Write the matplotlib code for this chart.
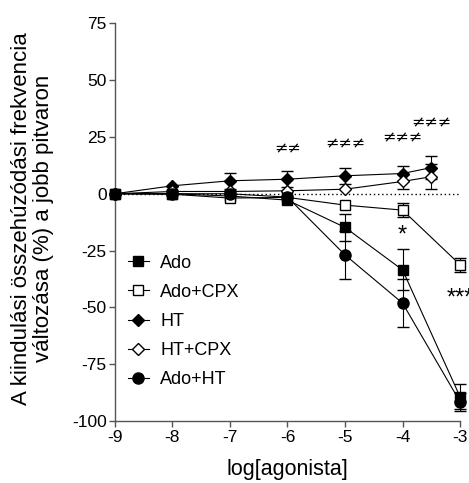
import numpy as np
import matplotlib
matplotlib.use('Agg')
import matplotlib.pyplot as plt

plt.rcParams['font.family'] = ['Liberation Sans', 'DejaVu Sans']
plt.rcParams['axes.unicode_minus'] = False

# log concentrations
x_main = [-9, -8, -7, -6, -5, -4, -3]
x_ht = [-9, -8, -7, -6, -5, -4, -3.5]

# mean values (%)
ado = [0, 0, -1, -2.8, -14.8, -33.5, -89.3]
ado_err = [0, 0, 0, 0, 6, 9, 5.5]
ado_cpx = [0, -0.2, -1.9, -1.6, -5, -7.2, -31.2]
ado_cpx_err = [0, 0, 0, 0, 0, 3, 3]
ht = [0, 3.5, 5.7, 6.4, 7.9, 8.9, 11.5]
ht_err = [0, 0, 3.6, 3.4, 3.6, 3.4, 5]
ht_cpx = [0, 1, 1, 1.3, 2, 5.4, 7.5]
ht_cpx_err = [0, 0, 0, 0, 0, 3.3, 5.5]
ado_ht = [0, 0, 0, -1.5, -26.9, -48.1, -91.5]
ado_ht_err = [0, 0, 0, 0, 10.5, 10.5, 4]

# significance marks
hash_x = [-6, -5, -4, -3.5]
hash_y = [19.6, 22, 24.7, 31.3]
hash_txt = ['≠≠', '≠≠≠', '≠≠≠', '≠≠≠']

fig = plt.figure(figsize=(4.69, 4.83), dpi=100)
ax = fig.add_axes([0.245, 0.128, 0.736, 0.824])

kw = dict(color='black', lw=0.8, capsize=4, elinewidth=0.8,
          capthick=0.8, clip_on=False, zorder=3)

def series(x, y, e, marker, fc, label, ms=7):
    err = np.array(e, dtype=float)
    eb = ax.errorbar(x, y, yerr=np.where(err > 0, err, np.nan), marker=marker,
                     mfc=fc, mec='black', mew=1.0, label=label, ms=ms, **kw)
    for art in eb.lines[1] + eb.lines[2]:
        art.set_clip_on(False)
    return eb

series(x_main, ado, ado_err, 's', 'black', 'Ado', 7)
series(x_main, ado_cpx, ado_cpx_err, 's', 'white', 'Ado+CPX', 7)
series(x_ht, ht, ht_err, 'D', 'black', 'HT', 6)
series(x_ht, ht_cpx, ht_cpx_err, 'D', 'white', 'HT+CPX', 6)
series(x_main, ado_ht, ado_ht_err, 'o', 'black', 'Ado+HT', 8)

ax.axhline(0, color='black', lw=1.0, ls=(0, (1, 2)), zorder=1)

for xx, yy, t in zip(hash_x, hash_y, hash_txt):
    ax.text(xx, yy, t, ha='center', va='center', fontsize=11.5,
            family=['DejaVu Sans'])
ax.text(-4, -18.5, '*', ha='center', va='center', fontsize=17)
ax.text(-3.24, -46, '***', ha='left', va='center', fontsize=17, clip_on=False)

ax.set_xlim(-9, -3)
ax.set_ylim(-100, 75)
ax.set_xticks(range(-9, -2))
ax.set_yticks(range(-100, 76, 25))
for s in ['top', 'right']:
    ax.spines[s].set_visible(False)
for s in ['left', 'bottom']:
    ax.spines[s].set_color('#555555')
    ax.spines[s].set_linewidth(1.0)
ax.tick_params(labelsize=12.5, length=4, width=1.0, color='#555555', pad=2)

ax.set_xlabel('log[agonista]', fontsize=15.5)
ax.xaxis.set_label_coords(0.5, -0.095)
ax.set_ylabel('A kiindulási összehúzódási frekvencia\nváltozása (%) a jobb pitvaron',
              fontsize=16, linespacing=1.05)
ax.yaxis.set_label_coords(-0.176, 0.51)

handles, labels = ax.get_legend_handles_labels()
handles = [h[0] for h in handles]
ax.legend(handles, labels, loc='upper left', bbox_to_anchor=(0.0, 0.45),
          frameon=False, fontsize=13, handlelength=1.2, handletextpad=0.6,
          labelspacing=0.67, borderaxespad=0.3)

fig.savefig('out.png', dpi=100)
